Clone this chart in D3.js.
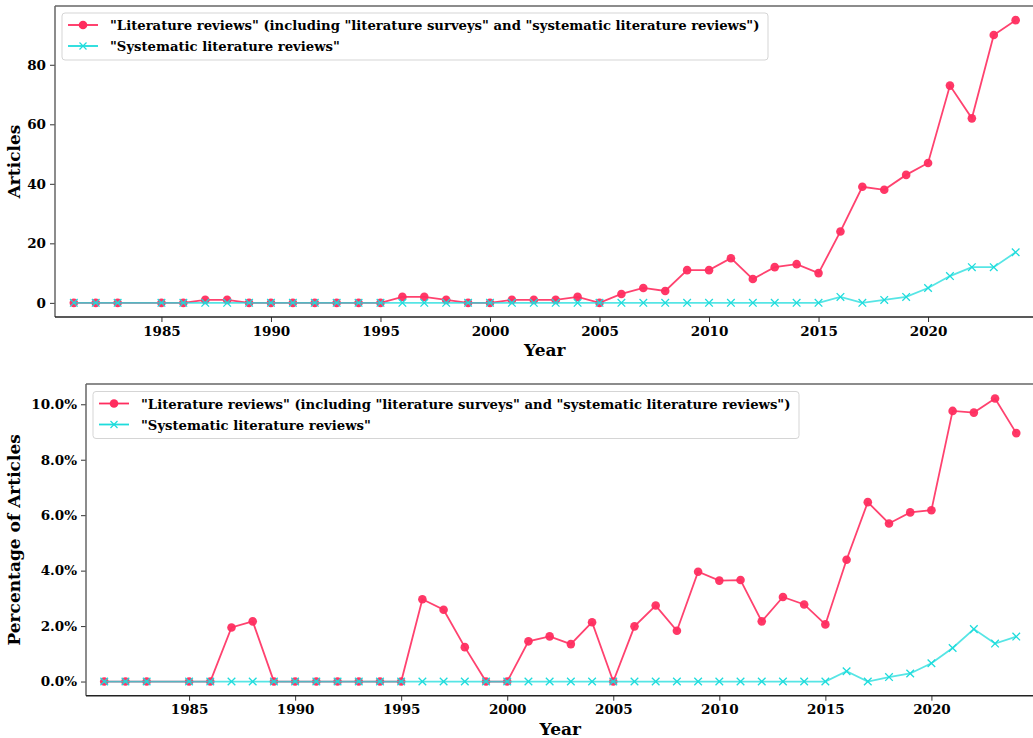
<!DOCTYPE html>
<html>
<head>
<meta charset="utf-8">
<script src="https://cdn.jsdelivr.net/npm/d3@7"></script>
<style>
  body { margin: 0; background: #fff; }
  svg text { font-family: "DejaVu Serif", serif; font-weight: bold; fill: #000; }
</style>
</head>
<body>
<div id="chart"></div>
<script>
// Data
var years = [1981, 1982, 1983, 1985, 1986, 1987, 1988, 1989, 1990, 1991, 1992, 1993, 1994, 1995,
  1996, 1997, 1998, 1999, 2000, 2001, 2002, 2003, 2004, 2005, 2006, 2007, 2008, 2009, 2010,
  2011, 2012, 2013, 2014, 2015, 2016, 2017, 2018, 2019, 2020, 2021, 2022, 2023, 2024];

var reviewCounts = [0, 0, 0, 0, 0, 1, 1, 0, 0, 0, 0, 0, 0, 0,
  2, 2, 1, 0, 0, 1, 1, 1, 2, 0, 3, 5, 4, 11, 11,
  15, 8, 12, 13, 10, 24, 39, 38, 43, 47, 73, 62, 90, 95];

var slrCounts = [0, 0, 0, 0, 0, 0, 0, 0, 0, 0, 0, 0, 0, 0,
  0, 0, 0, 0, 0, 0, 0, 0, 0, 0, 0, 0, 0, 0, 0,
  0, 0, 0, 0, 0, 2, 0, 1, 2, 5, 9, 12, 12, 17];

var reviewPct = [0, 0, 0, 0, 0, 1.95, 2.17, 0, 0, 0, 0, 0, 0, 0,
  2.97, 2.59, 1.24, 0, 0, 1.45, 1.63, 1.35, 2.14, 0, 1.99, 2.74, 1.83, 3.96, 3.64,
  3.66, 2.17, 3.05, 2.78, 2.06, 4.39, 6.47, 5.70, 6.10, 6.18, 9.76, 9.70, 10.21, 8.96];

var slrPct = [0, 0, 0, 0, 0, 0, 0, 0, 0, 0, 0, 0, 0, 0,
  0, 0, 0, 0, 0, 0, 0, 0, 0, 0, 0, 0, 0, 0, 0,
  0, 0, 0, 0, 0, 0.37, 0, 0.16, 0.29, 0.66, 1.21, 1.89, 1.37, 1.62];

var xTicks = [1985, 1990, 1995, 2000, 2005, 2010, 2015, 2020];
var countTicks = [0, 20, 40, 60, 80];
var pctTicks = [0, 2, 4, 6, 8, 10];

var seriesNames = ['"Literature reviews" (including "literature surveys" and "systematic literature reviews")',
  '"Systematic literature reviews"'];

var pink = "#ff2d5f", cyan = "#1edcdc";
var serif = '"DejaVu Serif", serif';

var W = 1033, H = 738;
var svg = d3.select("#chart").append("svg")
  .attr("width", W)
  .attr("height", H);

function drawPanel(opts) {
  var g = svg.append("g");
  var x = d3.scaleLinear().domain([1980.14, 2024.86]).range([opts.left, opts.right]);
  var y = d3.scaleLinear().domain(opts.yDomain).range([opts.bottom, opts.top]);

  // axes
  var xAxis = d3.axisBottom(x).tickValues(xTicks).tickFormat(d3.format("d"))
    .tickSizeInner(5).tickSizeOuter(0).tickPadding(4);
  var yAxis = d3.axisLeft(y).tickValues(opts.yTicks).tickFormat(opts.yFormat)
    .tickSizeInner(5).tickSizeOuter(0).tickPadding(4);

  var gx = g.append("g")
    .attr("transform", "translate(0," + opts.bottom + ")")
    .call(xAxis);
  var gy = g.append("g")
    .attr("transform", "translate(" + opts.left + ",0)")
    .call(yAxis);
  gx.select(".domain").remove();
  gy.select(".domain").remove();
  gx.attr("font-family", serif).attr("font-size", null);
  gy.attr("font-family", serif).attr("font-size", null);
  g.selectAll(".tick line").attr("stroke", "#333").attr("stroke-width", 1);
  g.selectAll(".tick text")
    .style("font-family", serif)
    .style("font-weight", "bold")
    .style("font-size", "13.5px")
    .attr("fill", "#000");

  // spines
  g.append("line").attr("x1", opts.left).attr("x2", W + 5).attr("y1", opts.top).attr("y2", opts.top)
    .attr("stroke", "#666").attr("stroke-width", 1.5);
  g.append("line").attr("x1", opts.left).attr("x2", opts.left).attr("y1", opts.top).attr("y2", opts.bottom)
    .attr("stroke", "#666").attr("stroke-width", 1.5);
  g.append("line").attr("x1", opts.left).attr("x2", W + 5).attr("y1", opts.bottom).attr("y2", opts.bottom)
    .attr("stroke", "#222").attr("stroke-width", 1.5);

  // axis labels
  g.append("text")
    .attr("x", (opts.left + 1034.5) / 2)
    .attr("y", opts.bottom + 39)
    .attr("text-anchor", "middle")
    .style("font-size", "17px")
    .text("Year");
  g.append("text")
    .attr("transform", "translate(20," + ((opts.top + opts.bottom) / 2) + ") rotate(-90)")
    .attr("text-anchor", "middle")
    .style("font-size", "17px")
    .text(opts.yLabel);

  var line = d3.line()
    .x(function (d) { return x(d.x); })
    .y(function (d) { return y(d.y); });

  var a = years.map(function (yr, i) { return { x: yr, y: opts.a[i] }; });
  var b = years.map(function (yr, i) { return { x: yr, y: opts.b[i] }; });

  g.append("path").datum(a)
    .attr("d", line).attr("fill", "none")
    .attr("stroke", pink).attr("stroke-width", 1.8).attr("opacity", 0.9);
  g.selectAll(".dotA").data(a).enter().append("circle")
    .attr("cx", function (d) { return x(d.x); })
    .attr("cy", function (d) { return y(d.y); })
    .attr("r", 4.3)
    .attr("fill", pink).attr("opacity", 0.95);

  g.append("path").datum(b)
    .attr("d", line).attr("fill", "none")
    .attr("stroke", cyan).attr("stroke-width", 1.8).attr("opacity", 0.75);
  g.selectAll(".crossB").data(b).enter().append("path")
    .attr("transform", function (d) { return "translate(" + x(d.x) + "," + y(d.y) + ")"; })
    .attr("d", "M-3.8,-3.8L3.8,3.8M-3.8,3.8L3.8,-3.8")
    .attr("stroke", cyan).attr("stroke-width", 1.3).attr("fill", "none");

  // legend
  var lg = g.append("g");
  lg.append("rect")
    .attr("x", opts.legend.x).attr("y", opts.legend.y)
    .attr("width", opts.legend.w).attr("height", 47)
    .attr("rx", 3).attr("fill", "#fff").attr("fill-opacity", 0.85)
    .attr("stroke", "#d5d5d5").attr("stroke-width", 1);
  var rows = [
    { name: seriesNames[0], color: pink, mark: "dot" },
    { name: seriesNames[1], color: cyan, mark: "cross" }
  ];
  rows.forEach(function (r, i) {
    var cy = opts.legend.y + 12 + i * 21;
    var x0 = opts.legend.x + 6;
    lg.append("line").attr("x1", x0).attr("x2", x0 + 30).attr("y1", cy).attr("y2", cy)
      .attr("stroke", r.color).attr("stroke-width", 1.8);
    if (r.mark === "dot") {
      lg.append("circle").attr("cx", x0 + 15).attr("cy", cy).attr("r", 4.3).attr("fill", r.color);
    } else {
      lg.append("path").attr("transform", "translate(" + (x0 + 15) + "," + cy + ")")
        .attr("d", "M-3.5,-3.5L3.5,3.5M-3.5,3.5L3.5,-3.5")
        .attr("stroke", r.color).attr("stroke-width", 1.2);
    }
    lg.append("text")
      .attr("x", x0 + 42)
      .attr("y", cy + 5)
      .style("font-size", "13.2px")
      .text(r.name);
  });
}

drawPanel({
  left: 55, right: 1034.5, top: 6, bottom: 317,
  yDomain: [-4.75, 99.75], yTicks: countTicks, yFormat: d3.format("d"),
  yLabel: "Articles", a: reviewCounts, b: slrCounts,
  legend: { x: 62, y: 13, w: 706 }
});

drawPanel({
  left: 86, right: 1034.5, top: 384, bottom: 695.7,
  yDomain: [-0.511, 10.731], yTicks: pctTicks, yFormat: function (d) { return d.toFixed(1) + "%"; },
  yLabel: "Percentage of Articles", a: reviewPct, b: slrPct,
  legend: { x: 93, y: 391.5, w: 706 }
});
</script>
</body>
</html>
